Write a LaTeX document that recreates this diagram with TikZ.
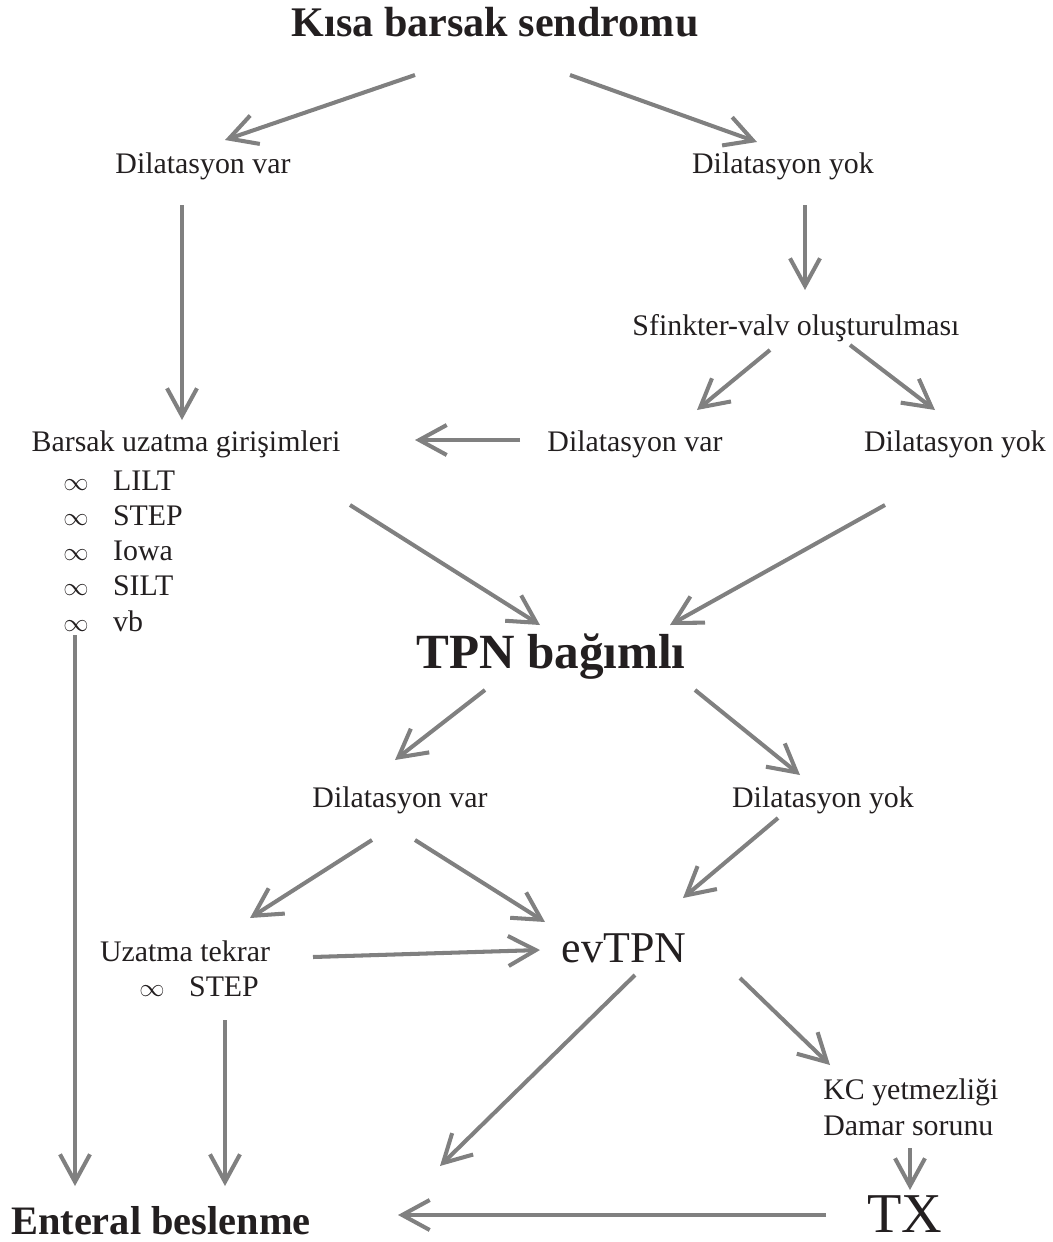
\documentclass[tikz,border=0pt]{standalone}
\usepackage{fontspec}
\setmainfont{Liberation Serif}
\usepackage{tikz}
\usetikzlibrary{arrows.meta, calc}
\definecolor{inktext}{RGB}{35,31,32}
\definecolor{arrowgray}{RGB}{128,128,128}
\newcommand{\bulletinf}{{\fontsize{15}{15}\selectfont$\infty$}\hspace{0.82em}}

\begin{document}
\begin{tikzpicture}[
        x=0.02cm, y=-0.02cm,
        label_txt/.style={inner sep=0pt, text=inktext, font=\fontsize{17}{20}\selectfont},
        head_txt/.style={inner sep=0pt, text=inktext, font=\fontsize{24}{28}\selectfont\bfseries},
        big_txt/.style={inner sep=0pt, text=inktext, font=\fontsize{25}{30}\selectfont},
        flow/.style={-{Straight Barb[length=0.55cm, width=0.6cm]}, line width=2.3pt, arrowgray}
    ]
    \useasboundingbox (0,0) rectangle (1053,1242);

    \node[head_txt] (title) at (495,22) {Kısa barsak sendromu};
    \node[label_txt] (dv1) at (203,166) {Dilatasyon var};
    \node[label_txt] (dy1) at (783,166) {Dilatasyon yok};
    \node[label_txt] (sfinkter) at (796,328) {Sfinkter-valv oluşturulması};
    \node[label_txt] (barsak) at (186,444) {Barsak uzatma girişimleri};
    \node[label_txt] (dv2) at (635,444) {Dilatasyon var};
    \node[label_txt] (dy2) at (955,444) {Dilatasyon yok};
    \foreach \item [count=\i] in {LILT, STEP, Iowa, SILT, vb}
        \node[label_txt, anchor=west] (li\i) at (63,446+35*\i) {\bulletinf\item};

    \node[head_txt, font=\fontsize{28}{32}\selectfont\bfseries] (tpn) at (551,657) {TPN bağımlı};
    \node[label_txt] (dv3) at (400,800) {Dilatasyon var};
    \node[label_txt] (dy3) at (823,800) {Dilatasyon yok};

    \node[label_txt] (tekrar) at (185,951) {Uzatma tekrar};
    \node[label_txt, anchor=west] (tstep) at (139,987) {\bulletinf STEP};
    \node[big_txt] (evtpn) at (624,948) {evTPN};
    \node[label_txt, anchor=west, align=left, font=\fontsize{17}{20.5}\selectfont] (kc) at (823,1107) {KC yetmezliği\\Damar sorunu};
    \node[big_txt, font=\fontsize{32}{36}\selectfont] (tx) at (905,1214) {TX};
    \node[head_txt, font=\fontsize{23}{28}\selectfont\bfseries] (enteral) at (161,1221) {Enteral beslenme};

    % upper part
    \draw[flow] ($(title)+(-80,53)$) -- ($(dv1)+(22,-26)$);
    \draw[flow] ($(title)+(75,53)$) -- ($(dy1)+(-26,-24)$);
    \draw[flow] ($(dv1)+(-21,39)$) -- ($(barsak)+(-4,-24)$);
    \draw[flow] ($(dy1)+(22,39)$) -- ($(sfinkter)+(9,-38)$);
    \draw[flow] ($(sfinkter)+(-26,22)$) -- ($(dv2)+(62,-34)$);
    \draw[flow] ($(sfinkter)+(54,17)$) -- ($(dy2)+(-20,-34)$);
    \draw[flow] ($(dv2)+(-115,-4)$) -- ($(barsak)+(229,-4)$);
    \draw[flow] ($(barsak)+(164,61)$) -- ($(tpn)+(-11,-32)$);
    \draw[flow] ($(dy2)+(-70,61)$) -- ($(tpn)+(119,-32)$);

    % lower part
    \draw[flow] ($(tpn)+(-66,33)$) -- ($(dv3)+(-5,-40)$);
    \draw[flow] ($(tpn)+(144,33)$) -- ($(dy3)+(-23,-25)$);
    \draw[flow] ($(dv3)+(-28,40)$) -- ($(tekrar)+(65,-33)$);
    \draw[flow] ($(dv3)+(15,40)$) -- ($(evtpn)+(-79,-26)$);
    \draw[flow] ($(dy3)+(-45,18)$) -- ($(evtpn)+(59,-50)$);
    \draw[flow] ($(tekrar)+(128,6)$) -- ($(evtpn)+(-84,2)$);
    \draw[flow] ($(tekrar)+(40,69)$) -- ($(enteral)+(64,-35)$);
    \draw[flow] ($(li5.west)+(12,14)$) -- ($(enteral)+(-86,-35)$);
    \draw[flow] ($(evtpn)+(11,27)$) -- ($(enteral)+(279,-55)$);
    \draw[flow] ($(evtpn)+(116,30)$) -- ($(kc.west)+(7,-42)$);
    \draw[flow] ($(kc.west)+(87,41)$) -- ($(tx)+(5,-24)$);
    \draw[flow] ($(tx)+(-79,1)$) -- ($(enteral)+(237,-6)$);
\end{tikzpicture}
\end{document}
